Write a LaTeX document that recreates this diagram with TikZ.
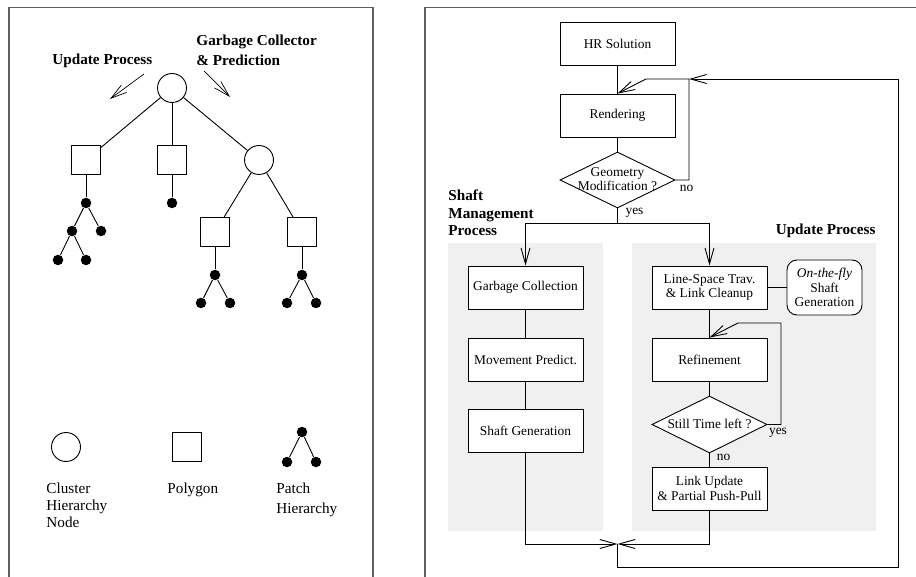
\documentclass[tikz,border=0pt]{standalone}
\usepackage{fontspec}
\setmainfont{Liberation Serif}
\usetikzlibrary{arrows.meta,shapes.geometric}
\definecolor{panelgray}{RGB}{240,240,240}
\definecolor{framegray}{RGB}{95,95,95}
\begin{document}
\begin{tikzpicture}[x=1pt,y=-1pt,
  line width=0.9pt,
  bigf/.style={font=\fontsize{15.2}{17.5}\selectfont},
  smallf/.style={font=\fontsize{13.4}{14.5}\selectfont},
  cnode/.style={circle,draw,minimum size=29pt,inner sep=0pt},
  pnode/.style={rectangle,draw,minimum size=29pt,inner sep=0pt},
  dnode/.style={circle,fill=black,minimum size=10.5pt,inner sep=0pt},
  fbox/.style={rectangle,draw,fill=white,minimum width=115pt,minimum height=43pt,inner sep=0pt,align=center,smallf},
  fdia/.style={diamond,draw,fill=white,minimum width=115pt,minimum height=56pt,inner sep=0pt},
  dtext/.style={align=center,inner sep=0pt,font=\fontsize{13.4}{12}\selectfont},
  lbl/.style={inner sep=0pt,smallf},
  barb/.style={-{Straight Barb[length=16pt,width=9pt]}},
  framel/.style={framegray,line width=1.3pt},
  ]
\useasboundingbox (0,0) rectangle (916,577);

% frames
\draw[framel] (9,577) -- (9,7.5) -- (373,7.5) -- (373,577);
\draw[framel] (425,577) -- (425,7.5) -- (916,7.5);

% ---------- left panel ----------
\node[bigf,font=\bfseries\fontsize{15.2}{17.5}\selectfont,anchor=base west,inner sep=0pt] (lupd) at (52,65) {Update Process};
\node[bigf,font=\bfseries\fontsize{15.2}{20}\selectfont,anchor=north west,align=left,inner sep=0pt] (lgc) at (196,34.7) {Garbage Collector\\\& Prediction};
\coordinate (a1s) at (144,74);
\coordinate (a1e) at (110,99);
\coordinate (a2s) at (204,71);
\coordinate (a2e) at (230,97);
\draw[barb,line width=0.7pt] (a1s) -- (a1e);
\draw[barb,line width=0.7pt] (a2s) -- (a2e);

\node[cnode] (r) at (172,88) {};
\node[pnode] (s1) at (86,160) {};
\node[pnode] (s2) at (172,160) {};
\node[cnode] (c2) at (259,160) {};
\node[pnode] (s3) at (215,232) {};
\node[pnode] (s4) at (302,232) {};
\node[dnode] (d1) at (86,203) {};
\node[dnode] (d2) at (72,231) {};
\node[dnode] (d3) at (101,231) {};
\node[dnode] (d4) at (58,260) {};
\node[dnode] (d5) at (86,260) {};
\node[dnode] (d6) at (172,203) {};
\node[dnode] (d7) at (215,275) {};
\node[dnode] (d8) at (201,303) {};
\node[dnode] (d9) at (230,303) {};
\node[dnode] (d10) at (302,275) {};
\node[dnode] (d11) at (287,303) {};
\node[dnode] (d12) at (316,303) {};
\draw (r) -- (s1);
\draw (r) -- (s2);
\draw (r) -- (c2);
\draw (c2) -- (s3);
\draw (c2) -- (s4);
\draw (s1) -- (d1);
\draw (d1) -- (d2);
\draw (d1) -- (d3);
\draw (d2) -- (d4);
\draw (d2) -- (d5);
\draw (s2) -- (d6);
\draw (s3) -- (d7);
\draw (d7) -- (d8);
\draw (d7) -- (d9);
\draw (s4) -- (d10);
\draw (d10) -- (d11);
\draw (d10) -- (d12);

% legend
\node[cnode] (lc) at (66,447) {};
\node[pnode] (lp) at (187,447) {};
\node[dnode] (l1) at (302,432) {};
\node[dnode] (l2) at (287,462) {};
\node[dnode] (l3) at (316,462) {};
\draw (l1) -- (l2);
\draw (l1) -- (l3);
\node[anchor=north west,align=left,inner sep=0pt,font=\fontsize{15.2}{17}\selectfont] (tc) at (46,482.5) {Cluster\\Hierarchy\\Node};
\node[anchor=north west,align=left,inner sep=0pt,font=\fontsize{15.2}{17}\selectfont] (tp) at (167,482.5) {Polygon};
\node[anchor=north west,align=left,inner sep=0pt,font=\fontsize{15.2}{20}\selectfont] (th) at (276,482.5) {Patch\\Hierarchy};

% ---------- right panel ----------
\fill[panelgray] (448,243) rectangle (603,531);
\fill[panelgray] (632,243) rectangle (876,531);
\node[anchor=north west,align=left,inner sep=0pt,font=\bfseries\fontsize{15.2}{17.5}\selectfont] (smp) at (448,189.7) {Shaft\\Management\\Process};
\node[anchor=base east,inner sep=0pt,font=\bfseries\fontsize{15.2}{17.5}\selectfont] (rup) at (876,234.5) {Update Process};

\node[fbox] (hr) at (617.5,43.5) {HR Solution};
\node[fbox] (rend) at (617.5,115.5) {Rendering};
\node[fdia] (geo) at (617.5,180) {};
\node[dtext] (geot) at (617.5,179) {Geometry\\Modification ?};

\node[fbox] (gc) at (525.5,287.5) {Garbage Collection};
\node[fbox] (mp) at (525.5,359.5) {Movement Predict.};
\node[fbox] (sg) at (525.5,431) {Shaft Generation};

\node[fbox] (ls) at (709.5,287.5) {Line-Space Trav.\\\& Link Cleanup};
\node[fbox,minimum width=75pt,minimum height=55pt,rounded corners=10pt] (otf) at (824.5,287.5) {\textit{On-the-fly}\\Shaft\\Generation};
\node[fbox] (ref) at (709.5,359.5) {Refinement};
\node[fdia,minimum height=57pt] (stl) at (709.5,424.5) {};
\node[dtext] (stlt) at (709.5,424) {Still Time left ?};
\node[fbox] (lu) at (709.5,488.5) {Link Update\\\& Partial Push-Pull};

% connectors
\draw (hr) -- (rend);
\draw (rend) -- (geo);
\coordinate (nx) at (689,79);
\coordinate (kink) at (646,79);
\draw[barb] (geo.east) -| (nx) -- (kink) -- (rend.north);

\coordinate (ysplit) at (617.5,223);
\draw (geo.south) -- (ysplit);
\draw[barb] (ysplit) -| (gc.north);
\draw[barb] (ysplit) -| (ls.north);

\draw (gc) -- (mp);
\draw (mp) -- (sg);
\draw (ls) -- (otf);
\draw (ls) -- (ref);
\draw (ref) -- (stl);
\draw (stl) -- (lu);

\coordinate (yr) at (781,323);
\coordinate (yk) at (738,323);
\draw[barb] (stl.east) -| (yr) -- (yk) -- (ref.north);

\coordinate (bm) at (617.5,544);
\coordinate (bb) at (617.5,567);
\coordinate (br) at (898,567);
\coordinate (bt) at (898,79);
\draw[barb] (sg.south) |- (bm);
\draw[barb] (lu.south) |- (bm);
\draw[barb] (bm) -- (bb) -- (br) -- (bt) -- (nx);

% branch labels
\node[lbl] (no1) at (686.5,188.5) {no};
\node[lbl] (yes1) at (634.5,212.5) {yes};
\node[lbl] (yes2) at (778,432.5) {yes};
\node[lbl] (no2) at (723.5,457.5) {no};
\end{tikzpicture}
\end{document}
